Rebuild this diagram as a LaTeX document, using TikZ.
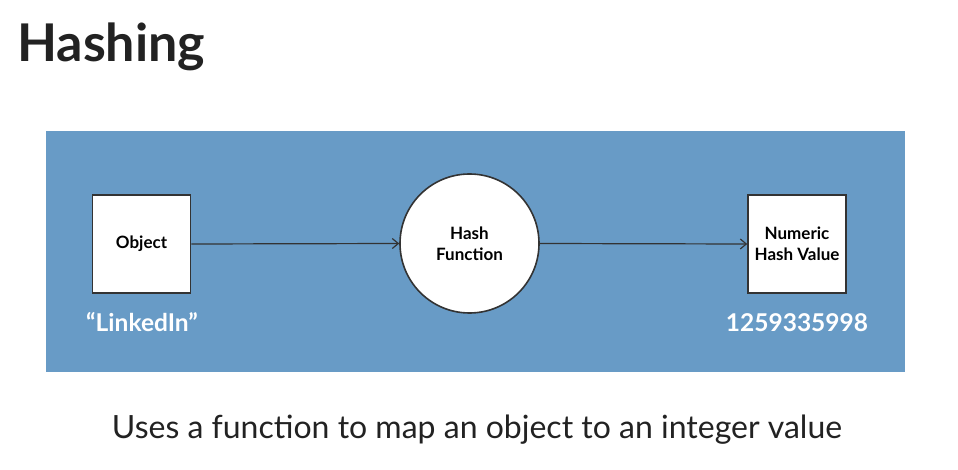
\documentclass[tikz,border=0pt]{standalone}
\usepackage{fontspec}
\setmainfont{Lato}
\usetikzlibrary{arrows.meta}
\definecolor{panel}{RGB}{104,155,198}
\definecolor{ink}{RGB}{34,34,34}
\definecolor{edge}{RGB}{51,51,51}
\begin{document}
\begin{tikzpicture}[x=1pt,y=-1pt,
  box/.style={draw=edge,line width=1.6pt,fill=white,minimum width=98pt,minimum height=98pt,inner sep=0pt,align=center,font=\fontsize{17}{21}\selectfont\bfseries,text=black},
  hashcircle/.style={draw=edge,line width=1.6pt,fill=white,circle,minimum size=139pt,inner sep=0pt,align=center,font=\fontsize{17}{21}\selectfont\bfseries,text=black},
  link/.style={draw=edge,line width=1.2pt,-{Straight Barb[length=6pt,width=10pt]}},
  valuelabel/.style={text=white,font=\fontsize{24.5}{28}\selectfont\bfseries,anchor=base}]
\useasboundingbox (0,0) rectangle (958,470);
\fill[white] (0,0) rectangle (958,470);
\node[anchor=base west,text=ink,font=\fontsize{52}{58}\selectfont\bfseries,inner sep=0pt] (title) at (17,62) {Hashing};
\fill[panel] (46,131) rectangle (905,372);
\node[box] (obj) at (141.5,244) {Object};
\node[hashcircle] (hf) at (469.5,243.5) {Hash\\Function};
\node[box] (num) at (797,244) {Numeric\\Hash Value};
\draw[link] (obj.east) -- (hf.west);
\draw[link] (hf.east) -- (num.west);
\node[valuelabel] (objval) at (142,331) {“LinkedIn”};
\node[valuelabel] (numval) at (797,331) {1259335998};
\node[anchor=base,text=ink,font=\fontsize{32}{36}\selectfont,inner sep=0pt] (caption) at (477,438) {Uses a function to map an object to an integer value};
\end{tikzpicture}
\end{document}
